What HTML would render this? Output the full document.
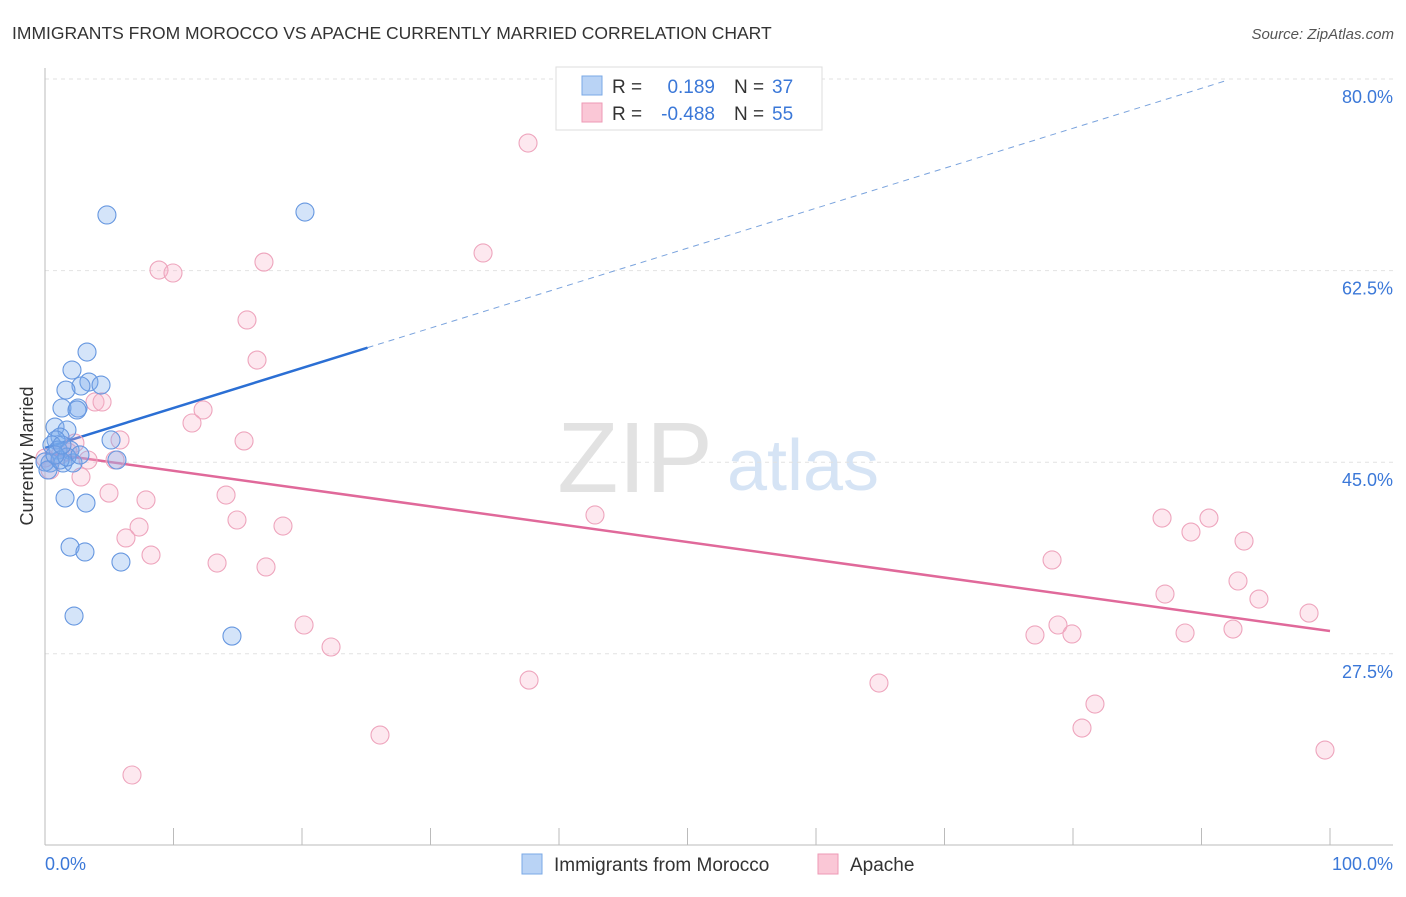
<!DOCTYPE html>
<html><head><meta charset="utf-8"><style>
body{margin:0;background:#fff;font-family:"Liberation Sans",sans-serif;}
svg text{font-family:"Liberation Sans",sans-serif;}
</style></head><body>
<svg id="chart" width="1406" height="892" xmlns="http://www.w3.org/2000/svg">
<text x="12" y="39" font-size="17.5" fill="#333">IMMIGRANTS FROM MOROCCO VS APACHE CURRENTLY MARRIED CORRELATION CHART</text>
<text x="1394" y="39" font-size="15" fill="#555" text-anchor="end" font-style="italic">Source: ZipAtlas.com</text>
<g>
<text x="635" y="492" font-size="100" fill="#e2e2e2" text-anchor="middle" font-family="Liberation Serif">ZIP</text>
<text x="803" y="490" font-size="72" fill="#d6e4f5" text-anchor="middle">atlas</text>
</g>
<g id="grid"></g>
<line x1="45" y1="68" x2="45" y2="845" stroke="#bbb"/>
<line x1="45" y1="845" x2="1393" y2="845" stroke="#bbb"/>
<g id="xticks"></g>
<text transform="translate(33,456) rotate(-90)" font-size="18" fill="#333" text-anchor="middle">Currently Married</text>
<text x="45" y="870" font-size="18" fill="#3b78d8">0.0%</text>
<text x="1393" y="870" font-size="18" fill="#3b78d8" text-anchor="end">100.0%</text>
<g id="lines"></g>
<g id="points"></g>
<g>
<rect x="556" y="67" width="266" height="63" fill="#fff" stroke="#ddd"/>
<rect x="582" y="76" width="20" height="19" fill="#b9d3f5" stroke="#7aa8e6"/>
<rect x="582" y="103" width="20" height="19" fill="#fac7d6" stroke="#ee9ab5"/>
<text x="612" y="93" font-size="19" fill="#333">R =</text>
<text x="715" y="93" font-size="19" fill="#3b78d8" text-anchor="end">0.189</text>
<text x="734" y="93" font-size="19" fill="#333">N =</text>
<text x="772" y="93" font-size="19" fill="#3b78d8">37</text>
<text x="612" y="120" font-size="19" fill="#333">R =</text>
<text x="715" y="120" font-size="19" fill="#3b78d8" text-anchor="end">-0.488</text>
<text x="734" y="120" font-size="19" fill="#333">N =</text>
<text x="772" y="120" font-size="19" fill="#3b78d8">55</text>
</g>
<g>
<rect x="522" y="854" width="20" height="20" fill="#b9d3f5" stroke="#7aa8e6"/>
<text x="554" y="871" font-size="19" fill="#333">Immigrants from Morocco</text>
<rect x="818" y="854" width="20" height="20" fill="#fac7d6" stroke="#ee9ab5"/>
<text x="850" y="871" font-size="19" fill="#333">Apache</text>
</g>
</svg>
<script>
const yTicks=[80,62.5,45,27.5];
const yTickLabels=["80.0%","62.5%","45.0%","27.5%"];
const xTicks=[0,10,20,30,40,50,60,70,80,90,100];
const blueX=[4.82,20.23,3.27,2.10,3.42,4.36,2.80,1.63,1.32,2.57,2.49,0.78,1.71,1.17,0.86,5.14,0.54,1.01,1.95,5.60,0.39,1.40,2.18,0,1.56,3.19,1.95,3.11,5.91,2.26,14.55,0.23,1.17,1.71,0.78,2.72,1.32];
const blueY=[67.58,67.85,55.06,53.42,52.32,52.05,51.96,51.59,49.95,49.95,49.77,48.21,47.94,47.30,47.03,47.03,46.57,46.11,46.11,45.20,44.93,44.93,44.93,45.02,41.73,41.27,37.25,36.80,35.88,30.95,29.12,44.29,45.20,45.47,45.66,45.66,46.57];
const pinkX=[37.59,34.09,8.87,9.96,17.04,15.72,16.50,3.89,4.44,12.30,11.44,5.84,15.49,2.33,1.79,3.35,5.45,2.80,0.39,4.98,7.86,14.09,14.94,18.52,7.32,6.30,8.25,13.39,17.20,20.16,22.26,37.67,26.07,6.77,42.80,64.90,78.37,77.04,78.83,79.92,81.71,80.70,86.93,89.18,90.58,93.31,92.84,94.47,87.16,88.72,92.45,98.37,99.61,1.17,0];
const pinkY=[74.15,64.11,62.55,62.28,63.28,57.99,54.33,50.50,50.50,49.77,48.58,47.03,46.94,46.75,45.93,45.20,45.20,43.65,44.29,42.18,41.55,42.00,39.72,39.17,39.08,38.08,36.52,35.79,35.43,30.13,28.12,25.10,20.08,16.43,40.18,24.83,36.07,29.22,30.13,29.31,22.91,20.72,39.90,38.62,39.90,37.80,34.15,32.50,32.96,29.40,29.76,31.22,18.71,45.66,45.38];
const blueTrend=[46.3,0.365];
const pinkTrend=[45.84,-0.1626];
const NS="http://www.w3.org/2000/svg";
const sx=v=>45+v*12.85;
const sy=v=>79+(80-v)/17.5*191.6;
function mk(tag,attrs,parent){const e=document.createElementNS(NS,tag);for(const k in attrs)e.setAttribute(k,attrs[k]);parent.appendChild(e);return e;}
const grid=document.getElementById('grid');
yTicks.forEach((t,i)=>{
 const l=mk('line',{x1:45,x2:1393,y1:sy(t),y2:sy(t),stroke:'#e2e2e2','stroke-dasharray':'4,4'},grid);
 
 
 const tx=mk('text',{x:1393,y:sy(t)+24,'font-size':18,fill:'#3b78d8','text-anchor':'end'},grid);
 tx.textContent=yTickLabels[i];
 
 
});
const xt=document.getElementById('xticks');
xTicks.forEach(t=>{
 const l=mk('line',{x1:sx(t),x2:sx(t),y1:828,y2:845,stroke:'#bbb'},xt);
 
 
});
const lg=document.getElementById('lines');
let b=mk('line',{x1:sx(0),y1:sy(blueTrend[0]),x2:sx(25.1),y2:sy(blueTrend[0]+blueTrend[1]*25.1),stroke:'#2b6fd4','stroke-width':2.5},lg);


b=mk('line',{x1:sx(25.1),y1:sy(blueTrend[0]+blueTrend[1]*25.1),x2:sx(92),y2:sy(blueTrend[0]+blueTrend[1]*92),stroke:'#7aa3dd','stroke-width':1,'stroke-dasharray':'6,5'},lg);


b=mk('line',{x1:sx(0),y1:sy(pinkTrend[0]),x2:sx(100),y2:sy(pinkTrend[0]+pinkTrend[1]*100),stroke:'#e0699a','stroke-width':2.5},lg);


const pg=document.getElementById('points');
pinkX.forEach((x,i)=>{
 const c=mk('circle',{cx:sx(x),cy:sy(pinkY[i]),r:9,fill:'rgba(248,180,203,0.3)',stroke:'#eea5bd','stroke-width':1.1},pg);
 
 
});
blueX.forEach((x,i)=>{
 const c=mk('circle',{cx:sx(x),cy:sy(blueY[i]),r:9,fill:'rgba(120,172,235,0.32)',stroke:'#6697e0','stroke-width':1.1},pg);
 
 
});
</script>
</body></html>
